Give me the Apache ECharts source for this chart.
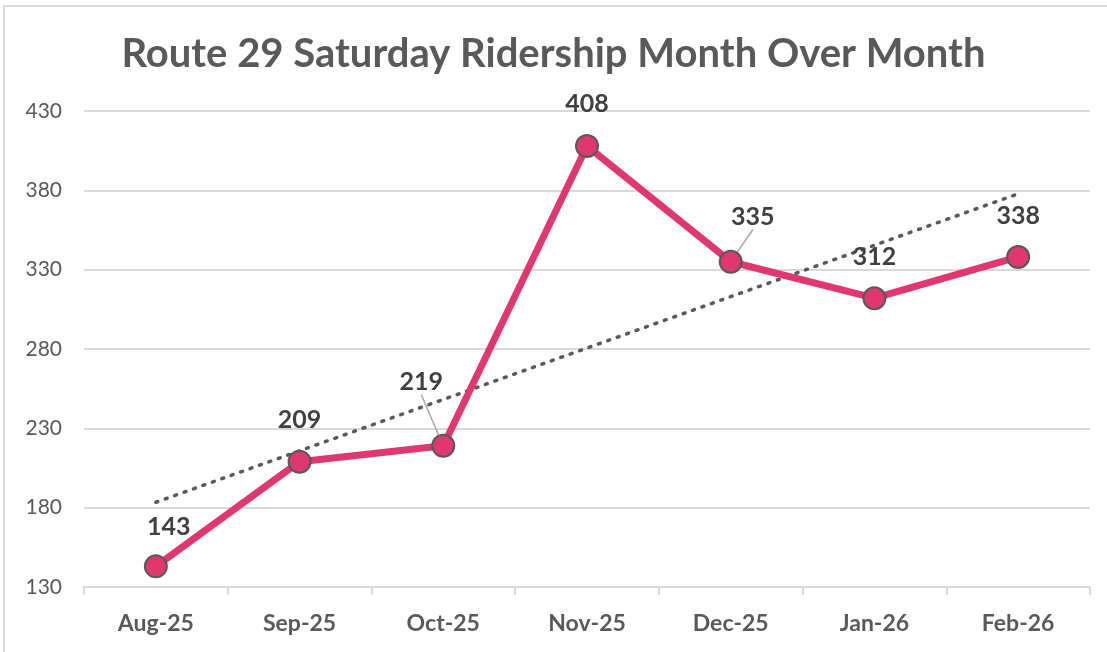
<!DOCTYPE html>
<html>
<head>
<meta charset="utf-8">
<script src="https://cdn.jsdelivr.net/npm/echarts@6/dist/echarts.min.js"></script>
<style>
  html, body { margin: 0; padding: 0; background: #fff; }
  #chart { width: 1107px; height: 652px; }
</style>
</head>
<body>
<div id="chart"></div>
<script>
// 数据
var months = ['Aug-25', 'Sep-25', 'Oct-25', 'Nov-25', 'Dec-25', 'Jan-26', 'Feb-26'];
var riders = [143, 209, 219, 408, 335, 312, 338];
// 趋势线两端
var trendEnds = [183.4, 377.8];
var yTicks = [130, 180, 230, 280, 330, 380, 430];
// 标签被挪开、带引导线的点
var movedLabels = [2, 4];

var trend = months.map(function (m, i) {
  if (i === 0) return trendEnds[0];
  if (i === months.length - 1) return trendEnds[1];
  return null;
});

var riderData = riders.map(function (v, i) {
  return {
    value: v,
    labelLine: { show: movedLabels.indexOf(i) >= 0 }
  };
});

var font = 'Lato, "Open Sans", sans-serif';
var myChart = echarts.init(document.getElementById('chart'));

var option = {
  animation: false,
  backgroundColor: '#fff',
  graphic: [{
    type: 'rect',
    shape: { x: 4, y: 6, width: 1120, height: 670 },
    style: { fill: 'none', stroke: '#d9d9d9', lineWidth: 2 },
    silent: true
  }],
  title: {
    text: 'Route 29 Saturday Ridership Month Over Month',
    left: 'center',
    top: 29,
    textStyle: { fontFamily: font, fontSize: 40, fontWeight: 'bold', color: '#595959' }
  },
  grid: { left: 84, right: 17, top: 111, bottom: 65 },
  xAxis: {
    type: 'category',
    data: months,
    boundaryGap: true,
    axisLine: { lineStyle: { color: '#d9d9d9', width: 2 } },
    axisTick: { show: true, length: 8, lineStyle: { color: '#d9d9d9', width: 2 } },
    axisLabel: { margin: 25, fontFamily: font, fontSize: 23, fontWeight: 'bold', color: '#595959' }
  },
  yAxis: {
    type: 'value',
    min: yTicks[0],
    max: yTicks[yTicks.length - 1],
    interval: 50,
    axisLine: { show: false },
    axisTick: { show: false },
    axisLabel: { margin: 22, fontFamily: font, fontSize: 21, color: '#595959' },
    splitLine: { lineStyle: { color: '#d9d9d9', width: 2 } }
  },
  series: [
    {
      name: 'Trend',
      type: 'line',
      data: trend,
      connectNulls: true,
      symbol: 'none',
      silent: true,
      lineStyle: { color: '#595959', width: 3.5, type: [2, 8], cap: 'round' },
      z: 3
    },
    {
      name: 'Ridership',
      type: 'line',
      data: riderData,
      symbol: 'circle',
      symbolSize: 22,
      lineStyle: { color: '#e0376f', width: 7 },
      itemStyle: { color: '#e0376f', borderColor: '#595959', borderWidth: 2 },
      label: {
        show: true,
        position: 'top',
        distance: 17,
        fontFamily: font,
        fontSize: 25,
        fontWeight: 'bold',
        color: '#404040'
      },
      labelLine: { show: false, lineStyle: { color: '#a6a6a6', width: 1.5 } },
      labelLayout: function (p) {
        if (p.dataIndex === 0) return { dx: 13, dy: 2 };
        if (p.dataIndex === 2) return { dx: -22, dy: -22 };
        if (p.dataIndex === 4) return { dx: 22, dy: -3 };
        return {};
      },
      z: 4
    }
  ]
};

myChart.setOption(option);
</script>
</body>
</html>
